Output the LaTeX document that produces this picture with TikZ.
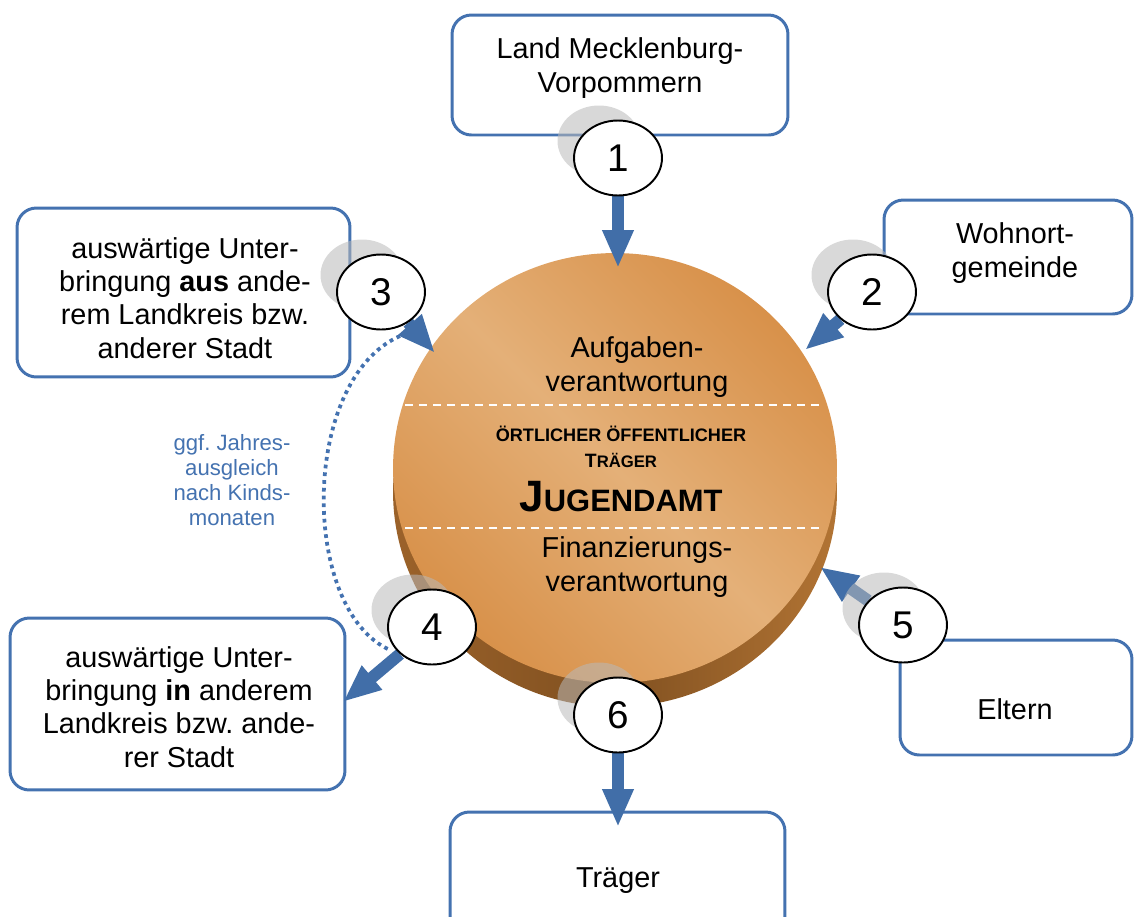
\documentclass[tikz,border=0pt]{standalone}
\usepackage{fontspec}
\setmainfont{Liberation Sans}
\usetikzlibrary{shapes.geometric,arrows.meta}
\definecolor{boxblue}{RGB}{68,114,176}
\definecolor{arrblue}{RGB}{65,110,168}
\definecolor{orD}{RGB}{216,145,74}
\definecolor{orL}{RGB}{228,176,120}
\definecolor{brA}{RGB}{155,98,42}
\definecolor{brM}{RGB}{128,80,32}
\definecolor{brB}{RGB}{178,116,52}
\pgfdeclarelayer{bg}
\pgfdeclarelayer{mid}
\pgfsetlayers{bg,mid,main}
\frenchspacing
\begin{document}
\begin{tikzpicture}[x=0.02cm,y=-0.02cm,
  box/.style={draw=boxblue,line width=1.7pt,rounded corners=11pt,fill=white,inner sep=0pt},
  txt/.style={align=center,inner sep=0pt,font=\fontsize{16.4}{19}\selectfont},
  num/.style={ellipse,draw=black,line width=1.1pt,fill=white,minimum width=1.76cm,minimum height=1.5cm,inner sep=0pt,font=\fontsize{22}{22}\selectfont},
  shade/.style={ellipse,fill=gray!55,opacity=0.55,minimum width=1.66cm,minimum height=1.42cm,inner sep=0pt},
  flow/.style={draw=arrblue,line width=0.24cm,-{Triangle[length=0.76cm,width=0.58cm]}},
  sep/.style={draw=white,line width=0.9pt,dash pattern=on 0.16cm off 0.12cm}]
\clip (0,0) rectangle (1134,917);

\begin{pgfonlayer}{bg}
% boxes
\node[box,minimum width=6.72cm,minimum height=2.4cm] (bLand) at (620,75) {};
\node[box,minimum width=6.66cm,minimum height=3.38cm] (bAus) at (183.5,292.5) {};
\node[box,minimum width=4.96cm,minimum height=2.28cm] (bWohn) at (1008,257) {};
\node[box,minimum width=6.7cm,minimum height=3.44cm] (bIn) at (177.5,704) {};
\node[box,minimum width=4.64cm,minimum height=2.3cm] (bEltern) at (1016,697.5) {};
\node[box,minimum width=6.7cm,minimum height=2.56cm] (bTraeger) at (617.5,876) {};

\node[txt] (tLand) at (620,68) {Land Mecklenburg-\\Vorpommern};
\node[txt] (tAus) at (185,298) {auswärtige Unter-\\bringung \textbf{aus} ande-\\rem Landkreis bzw.\\anderer Stadt};
\node[txt] (tWohn) at (1015,253) {Wohnort-\\gemeinde};
\node[txt] (tIn) at (179,707) {auswärtige Unter-\\bringung \textbf{in} anderem\\Landkreis bzw. ande-\\rer Stadt};
\node[txt] (tEltern) at (1015,709) {Eltern};
\node[txt] (tTraeger) at (618,881) {Träger};

% disk
\node[ellipse,minimum width=8.88cm,minimum height=8.6cm,inner sep=0pt,
  left color=brA,right color=brB,middle color=brM] (side) at (615,492) {};
\node[ellipse,minimum width=8.88cm,minimum height=8.6cm,inner sep=0pt,
  top color=orD,bottom color=orD,middle color=orL,shading angle=-45] (disk) at (615,468) {};
\coordinate (la) at (405,405); \coordinate (lb) at (822,405);
\coordinate (lc) at (405,528); \coordinate (ld) at (822,528);
\draw[sep] (la) -- (lb);
\draw[sep] (lc) -- (ld);
\node[txt] (tAufg) at (637,367) {Aufgaben-\\verantwortung};
\node[txt] (tFin) at (637,567) {Finanzierungs-\\verantwortung};
\node[align=center,inner sep=0pt,font=\bfseries\fontsize{10.3}{14.5}\selectfont] (tOrt) at (621,447)
  {ÖRTLICHER ÖFFENTLICHER\\{\fontsize{11}{14.5}\selectfont T}{\fontsize{9.5}{14.5}\selectfont RÄGER}};
\node[inner sep=0pt,font=\bfseries] (tJug) at (621,497)
  {{\fontsize{25}{25}\selectfont J}{\fontsize{17.6}{25}\selectfont UGENDAMT}};

% side note
\node[align=center,inner sep=0pt,text=boxblue,font=\fontsize{12.6}{14.2}\selectfont] (note) at (232,480)
  {ggf. Jahres-\\ausgleich\\nach Kinds-\\monaten};
\end{pgfonlayer}

% number ellipses
\node[num] (e1) at (618,158) {1};
\node[num] (e2) at (872,292) {2};
\node[num] (e3) at (381,292) {3};
\node[num] (e4) at (432,627) {4};
\node[num] (e5) at (903,625) {5};
\node[num] (e6) at (618,715) {6};

\coordinate (t1) at (618,268);
\coordinate (t2) at (805,350);
\coordinate (t3) at (435,353);
\coordinate (t4) at (343,702);
\coordinate (t5) at (820,567);
\coordinate (t6) at (618,827);
\coordinate (d1) at (400,336);
\coordinate (d2) at (390,650);

\begin{pgfonlayer}{mid}
\draw[flow] (e1) -- (t1);
\draw[flow] (e2) -- (t2);
\draw[flow] (e3) -- (t3);
\draw[flow] (e4) -- (t4);
\draw[flow] (e5) -- (t5);
\draw[flow] (e6) -- (t6);
\draw[boxblue,line width=0.075cm,dash pattern=on 0.075cm off 0.08cm]
  (d1) .. controls (300,380) and (300,610) .. (d2);
\foreach \n/\x/\y in {1/618/158,2/872/292,3/381/292,4/432/627,5/903/625,6/618/715}
  \node[shade] (s\n) at (\x-19,\y-17) {};
\end{pgfonlayer}
\end{tikzpicture}
\end{document}
